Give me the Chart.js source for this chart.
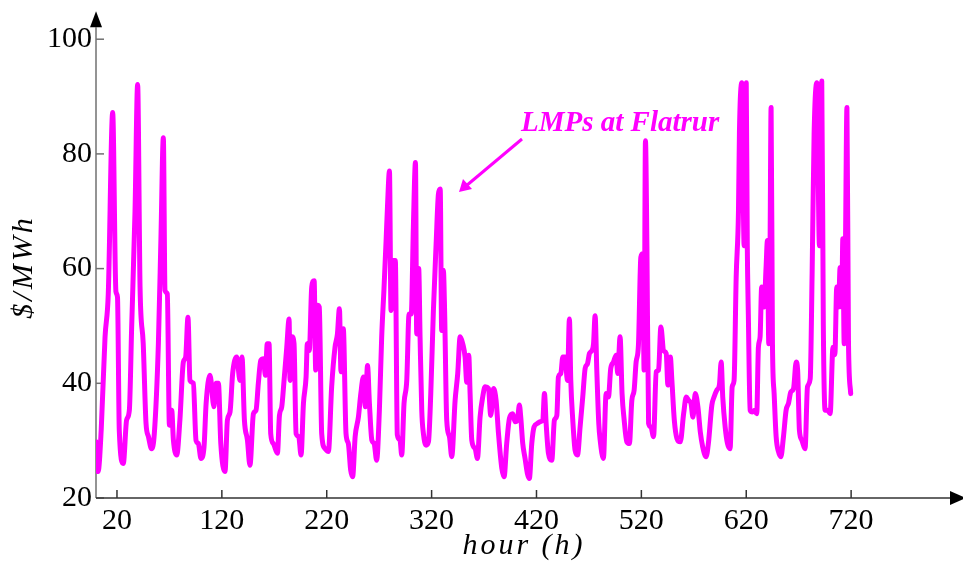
<!DOCTYPE html>
<html>
<head>
<meta charset="utf-8">
<script src="https://cdn.jsdelivr.net/npm/chart.js@4.4.1/dist/chart.umd.min.js"></script>
<style>
  body { margin: 0; background: #fff; }
  #lmpChart { display: block; }
</style>
</head>
<body>
<canvas id="lmpChart" width="963" height="563"></canvas>
<script>
// hourly LMPs (hour, $/MWh)
var hours = [0, 2, 5, 8.6, 11.7, 15.9, 19, 20.5, 22.2, 26, 29.2, 31.8, 34, 37.2, 39.7, 42, 45, 47.7, 50, 53,
    55.6, 59.5, 62, 64.2, 65.8, 68, 70, 72.2, 73.8, 77, 80, 83.3, 85.5, 87.7, 89.6, 92.8, 95.4, 97.6, 100.1, 103,
    105, 108.7, 112.5, 114.4, 116.7, 119, 123, 125.3, 127.8, 130.3, 134.2, 137.3, 139.2, 141.5, 144.4, 146.8, 150.1, 152.6, 154.8, 157.1,
    159.7, 161.5, 163.3, 165, 166.6, 169.1, 173, 174.9, 177.1, 179.3, 181.9, 184.1, 185, 187, 188.8, 190.8, 193.3, 195.5, 197.8, 200.3,
    201.5, 203.4, 205.7, 208, 209.5, 211.1, 212.9, 215.2, 218.4, 221.6, 224.7, 227.9, 230.2, 232.1, 233.6, 235.8, 238.4, 240.6, 242.8, 244.7,
    247.1, 250.2, 252.5, 255, 256.9, 258.9, 260.7, 263, 265.2, 267.6, 270.2, 272.4, 274.6, 276.6, 277.9, 279.8, 281.3, 283.5, 285.4, 287.3,
    289.9, 291.5, 293.7, 296.3, 298.5, 300.6, 302.6, 304.6, 305.8, 307.7, 309, 310.6, 312.2, 314.7, 317, 319.2, 321.7, 324.3, 326.5, 328.2,
    329.6, 331.2, 332.4, 334.4, 337, 339.2, 342.4, 344.9, 347.2, 349.7, 351.9, 353.5, 355.4, 356.7, 358.3, 361.5, 363.7, 366.2, 368.7, 371,
    374.2, 376.4, 379, 381.5, 383.8, 386.9, 389.1, 391.6, 394.2, 397.4, 399.6, 401.8, 403.7, 405, 406.9, 409.1, 411.3, 413.2, 415.5, 417.7,
    420.9, 423.4, 426, 427.6, 429.2, 431.4, 434.6, 437.1, 439.4, 440.9, 443.2, 445.1, 447.3, 449.5, 451.4, 452.7, 454.6, 456.8, 459.1, 461.6,
    464.1, 466.4, 468.6, 470.5, 472.8, 474.4, 475.9, 477.5, 479.4, 480.7, 483.8, 486.4, 488.6, 490.8, 493.4, 495.9, 497.5, 499.7, 501.6, 503.6,
    506.1, 508.6, 510.9, 513.1, 515, 517.2, 519.5, 521.4, 522.6, 523.9, 525.3, 526.9, 529.1, 531.6, 534.2, 536.4, 538.6, 541.2, 543.7, 545.3,
    547.6, 549.1, 551.4, 553.9, 557.1, 560.3, 562.8, 565.1, 567.3, 569.2, 571.4, 573.9, 576.2, 578.5, 581.7, 583.9, 587.2, 589.3, 591.9, 594.4,
    596.1, 597.6, 599.9, 602.1, 604.6, 606.6, 608.4, 610.4, 612.6, 613.5, 615.8, 618, 620, 621, 622, 623.7, 625.9, 628, 630, 631.6,
    633.2, 634.7, 637, 638.9, 640.2, 641.5, 642.7, 643.7, 645, 646.6, 648.5, 650.7, 653, 655.5, 658, 660.3, 662.5, 665.1, 667.6, 669,
    670.7, 673, 676.1, 678.4, 681, 682.8, 684.7, 687.3, 689.8, 692, 693.5, 695.2, 697.6, 700, 702.7, 704.5, 706.3, 708, 709.5, 711,
    712.1, 713.4, 714.6, 716, 717.5, 719.6];

var lmpValues = [29.8, 24.6, 32, 48, 55.6, 87.2, 56, 55, 31.8, 26, 33.6, 35.3, 49.8, 70, 92.1, 56.8, 47, 33, 30.7, 28.6,
    31.2, 47, 66, 82.8, 56.2, 55.6, 32.7, 35.3, 30.1, 27.5, 33.6, 43.7, 44.6, 51.5, 40.5, 40, 30, 29.5, 26.9, 28.9,
    36.5, 41.4, 35.9, 40, 40, 29.5, 24.6, 33.6, 35, 41.7, 44.6, 40.5, 44.6, 33.6, 30.1, 25.7, 34.7, 35.3, 40, 44,
    44.3, 41.4, 46.9, 46.9, 31.2, 29.5, 27.8, 34.4, 35.9, 40.5, 46.3, 51.2, 40.5, 48.1, 47, 31.2, 30.7, 27.5, 36.5, 41.1,
    46.9, 45.7, 56.8, 57.9, 42.3, 53.6, 53.3, 31.2, 28.6, 28.1, 39.4, 46.3, 48.6, 53, 42, 49.5, 31.2, 29.5, 24.9, 23.7,
    30.7, 34.1, 38.2, 41.1, 35.9, 43.1, 36.5, 30.1, 29.5, 26.6, 35.3, 48.1, 56.5, 64.9, 70.7, 77, 52.7, 61.4, 61.4, 31,
    30.1, 27.5, 36.5, 40.5, 52.1, 52.1, 67.2, 78.5, 48.6, 60, 48, 35.3, 31.2, 29.2, 29.8, 38.2, 52.7, 64.3, 73, 73.9,
    49.2, 59.7, 52.7, 33.6, 30.7, 27.2, 37, 41.7, 48.1, 46.9, 44.6, 40.2, 44.9, 38.2, 30.1, 28.6, 26.9, 34.1, 37.6, 39.4,
    39.1, 34.4, 39.1, 37, 31.2, 25.2, 23.7, 29.5, 33.9, 34.7, 33.3, 33.6, 36.2, 34.1, 29.5, 26.9, 24.3, 23.4, 29.5, 32.4,
    33, 33.3, 33.6, 38.2, 33, 27.8, 26.6, 33.6, 34.4, 41.1, 41.7, 44.6, 44.6, 40.5, 51.2, 40.5, 33.6, 28.3, 27.5, 32.4,
    37.6, 42.6, 43.4, 45.2, 45.7, 46.9, 51.8, 42.3, 33, 30.1, 26.9, 38.2, 37.6, 42.6, 43.7, 44.9, 41.7, 48.1, 38.2, 33.6,
    29.8, 29.5, 37, 38.8, 43.7, 46.6, 62, 62.6, 42.3, 82.3, 63.7, 33, 32.4, 30.7, 42, 42.3, 49.8, 45.7, 45.2, 39.7,
    44.6, 40.5, 33.6, 30.4, 29.8, 34.7, 37.6, 37, 36.5, 34.1, 38.2, 35.9, 31.5, 28.9, 27.2, 29.5, 36.2, 37.6, 38.8, 39.7,
    43.7, 37.6, 32.4, 29.5, 28.6, 39.4, 40.5, 58.5, 70.1, 83.7, 92.4, 64, 92.4, 64, 52, 35.3, 35, 35.3, 34.7, 46.3,
    48.1, 56.8, 53.3, 60.2, 64.9, 46.9, 63.7, 88.1, 46.9, 38.2, 30.7, 28.1, 27.2, 30.7, 35.3, 36.5, 38.5, 39.1, 43.7, 42.3,
    31.8, 30.1, 28.6, 39.4, 40.8, 59, 83.4, 92.4, 64, 92.7, 50, 35.3, 35.3, 34.7, 46.3, 45, 56.8, 53.3, 60.2, 53.3,
    65.2, 46.9, 63.7, 88.1, 46.9, 38.2];

var xTicks = [20, 120, 220, 320, 420, 520, 620, 720];
var yTicks = [20, 40, 60, 80, 100];

var serif = '"Liberation Serif", "Times New Roman", serif';
var magenta = '#ff00ff';

// build the point list for the linear x axis
let points = [];
for (let i = 0; i < hours.length; i++) {
    points.push({ x: hours[i], y: lmpValues[i] });
}

function triangle(ctx, x1, y1, x2, y2, x3, y3) {
    ctx.beginPath();
    ctx.moveTo(x1, y1);
    ctx.lineTo(x2, y2);
    ctx.lineTo(x3, y3);
    ctx.closePath();
    ctx.fill();
}

// axes with inward ticks and arrow heads, drawn under the line
const axesPlugin = {
    id: 'axesPlugin',
    beforeDatasetsDraw(chart) {
        const ctx = chart.ctx;
        const xs = chart.scales.x, ys = chart.scales.y;
        const left = chart.chartArea.left, bottom = chart.chartArea.bottom;
        const topY = ys.getPixelForValue(100) - 12;
        ctx.save();
        ctx.lineWidth = 1.5;
        // y axis
        ctx.strokeStyle = '#707070';
        ctx.beginPath();
        ctx.moveTo(left, bottom);
        ctx.lineTo(left, topY);
        ctx.stroke();
        yTicks.forEach(v => {
            const py = ys.getPixelForValue(v);
            ctx.beginPath();
            ctx.moveTo(left, py);
            ctx.lineTo(left + 8, py);
            ctx.stroke();
        });
        // x axis
        ctx.strokeStyle = '#333';
        ctx.beginPath();
        ctx.moveTo(left, bottom);
        ctx.lineTo(955, bottom);
        ctx.stroke();
        xTicks.forEach(v => {
            const px = xs.getPixelForValue(v);
            ctx.beginPath();
            ctx.moveTo(px, bottom);
            ctx.lineTo(px, bottom - 8);
            ctx.stroke();
        });
        ctx.fillStyle = '#000';
        triangle(ctx, left - 6, topY, left + 6, topY, left, topY - 16);
        triangle(ctx, 950, bottom - 7, 950, bottom + 7, 966, bottom);
        ctx.restore();
    },
    afterDraw(chart) {
        const ctx = chart.ctx;
        ctx.save();
        // axis titles
        ctx.fillStyle = '#000';
        ctx.font = 'italic 30px ' + serif;
        ctx.textAlign = 'center';
        ctx.textBaseline = 'middle';
        ctx.letterSpacing = '3px';
        ctx.fillText('hour (h)', 524, 546);
        ctx.translate(24, 267);
        ctx.rotate(-Math.PI / 2);
        ctx.fillText('$/MWh', 0, 0);
        ctx.restore();

        // annotation
        ctx.save();
        ctx.fillStyle = magenta;
        ctx.strokeStyle = magenta;
        ctx.font = 'bold italic 29px ' + serif;
        ctx.textAlign = 'left';
        ctx.textBaseline = 'alphabetic';
        ctx.fillText('LMPs at Flatrur', 521, 131);
        ctx.lineWidth = 3;
        ctx.beginPath();
        ctx.moveTo(522, 139);
        ctx.lineTo(466, 186);
        ctx.stroke();
        triangle(ctx, 459, 192, 463, 179, 472, 189);
        ctx.restore();
    }
};

new Chart(document.getElementById('lmpChart'), {
    type: 'line',
    data: {
        datasets: [{
            data: points,
            borderColor: magenta,
            borderWidth: 5,
            borderJoinStyle: 'round',
            borderCapStyle: 'round',
            pointRadius: 0,
            cubicInterpolationMode: 'monotone',
            fill: false
        }]
    },
    options: {
        responsive: false,
        devicePixelRatio: 1,
        animation: false,
        layout: { padding: { top: 21, right: 7, left: 0, bottom: 0 } },
        plugins: { legend: { display: false }, tooltip: { enabled: false } },
        scales: {
            x: {
                type: 'linear',
                min: 0,
                max: 820,
                grid: { display: false, drawTicks: false },
                border: { display: false },
                afterBuildTicks: scale => { scale.ticks = xTicks.map(v => ({ value: v })); },
                afterFit: scale => { scale.height = 65; },
                ticks: { color: '#000', padding: 5, maxRotation: 0, font: { family: serif, size: 30 } }
            },
            y: {
                min: 20,
                max: 103,
                grid: { display: false, drawTicks: false },
                border: { display: false },
                afterBuildTicks: scale => { scale.ticks = yTicks.map(v => ({ value: v })); },
                afterFit: scale => { scale.width = 96; },
                ticks: { color: '#000', padding: 4, font: { family: serif, size: 30 } }
            }
        }
    },
    plugins: [axesPlugin]
});
</script>
</body>
</html>
